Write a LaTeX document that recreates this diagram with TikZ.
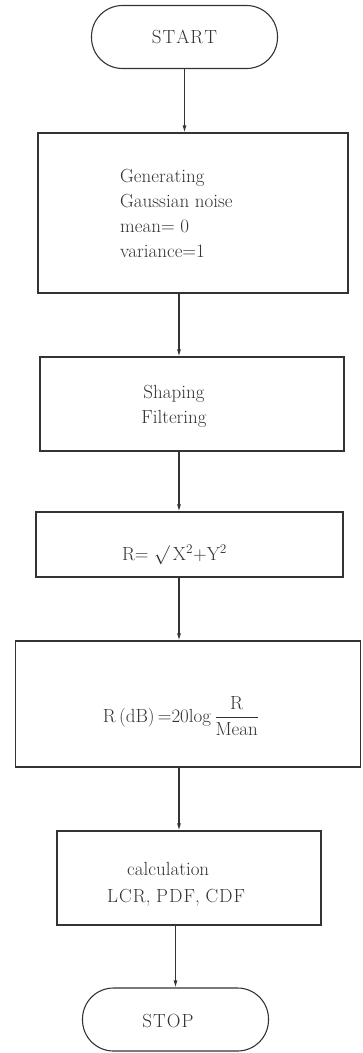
\RequirePackage{fix-cm}
\documentclass[tikz,border=0pt]{standalone}
\usetikzlibrary{arrows.meta}
\tikzset{
  ln/.style={draw=black!80, line width=1.1pt},
  box/.style={ln, rectangle, inner sep=0pt},
  term/.style={ln, rectangle, rounded corners=31pt, inner sep=0pt, minimum width=186pt, minimum height=63pt},
  txt/.style={text=black!80, inner sep=0pt, font=\fontsize{19}{25}\selectfont},
  arr/.style={ln, -{Latex[length=7pt,width=4pt]}}
}
\begin{document}
\begin{tikzpicture}[x=1pt,y=-1pt]
\useasboundingbox (0,0) rectangle (362,1053);
\coordinate (axis) at (179,0);
% terminals
\node[term] (start) at (184.5,37) {};
\node[txt] (starttxt) at (start.center) {S\kern1pt T\kern1pt A\kern1pt R\kern1pt T};
\node[term] (stop) at (175.5,1019.5) {};
\node[txt] (stoptxt) at (168,1021) {S\kern1pt T\kern1pt O\kern1pt P};
% boxes
\node[box, minimum width=310pt, minimum height=160pt] (b1) at (193,213) {};
\node[box, minimum width=304pt, minimum height=94pt] (b2) at (192,404) {};
\node[box, minimum width=307pt, minimum height=65pt] (b3) at (189.5,544.5) {};
\node[box, minimum width=345pt, minimum height=126pt] (b4) at (188,704) {};
\node[box, minimum width=264pt, minimum height=94pt] (b5) at (189,878) {};
% texts
\node[txt, align=left, anchor=west] (t1) at (120,213) {Generating\\Gaussian noise\\mean$=$ 0\\variance$=$1};
\node[txt, align=center] (t2) at (174,406) {Shaping\\Filtering};
\node[txt, anchor=base] (t3) at (174.5,560) {R$=\surd\,$X$^{2}$$+$Y$^{2}$};
\node[txt] (t4) at (181,716) {R\,(dB)\,$=$20log\,$\displaystyle\frac{\mbox{R}}{\mbox{Mean}}$};
\node[txt, align=left, anchor=west] (t5) at (107,884) {\hspace*{20pt}calculation\\[2pt]L\kern1pt C\kern1pt R, P\kern1pt D\kern1pt F, C\kern1pt D\kern1pt F};
% connectors
\draw[arr] (start.south) -- (start.south |- b1.north);
\draw[arr] (axis |- b1.south) -- (axis |- b2.north);
\draw[arr] (axis |- b2.south) -- (axis |- b3.north);
\draw[arr] (axis |- b3.south) -- (axis |- b4.north);
\draw[arr] (axis |- b4.south) -- (axis |- b5.north);
\draw[arr] (stop.north |- b5.south) -- (stop.north);
\end{tikzpicture}
\end{document}
